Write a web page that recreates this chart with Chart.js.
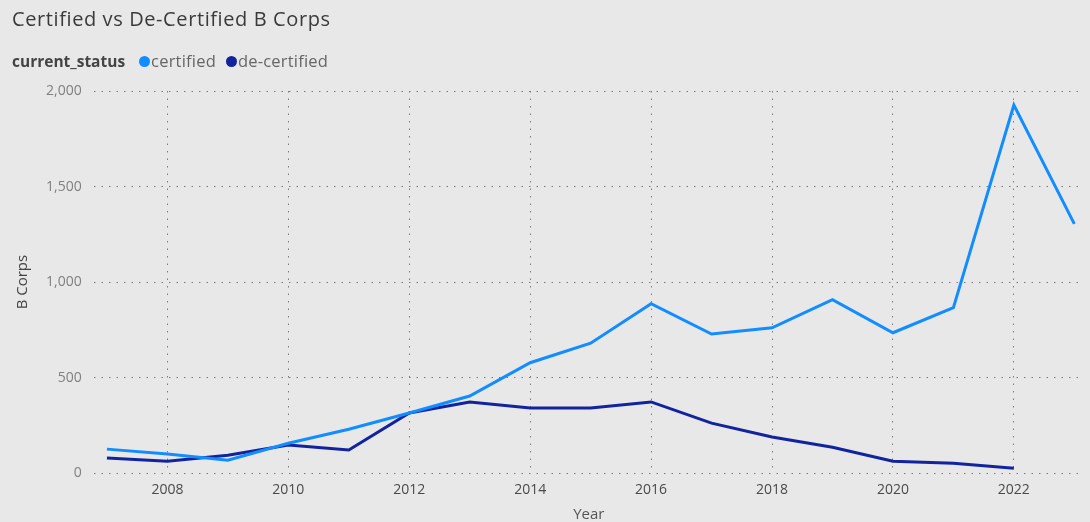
<!DOCTYPE html>
<html>
<head>
<meta charset="utf-8">
<title>Certified vs De-Certified B Corps</title>
<script src="https://cdn.jsdelivr.net/npm/chart.js@4/dist/chart.umd.min.js"></script>
<style>
  html, body { margin: 0; padding: 0; background: #e8e8e8; }
  #wrap { position: relative; width: 1090px; height: 522px; overflow: hidden; }
  #myChart { position: absolute; left: 0; top: 0; }
  .title { position: absolute; left: 12px; top: 5px; font-family: "Open Sans", sans-serif; font-size: 20px; letter-spacing: 0.6px; font-weight: 500; color: #3a3a3a; }
  .legend { position: absolute; left: 12px; top: 49px; font-family: "Open Sans", sans-serif; font-size: 16.5px; color: #666; white-space: nowrap; }
  .legend b { color: #444; font-size: 15.5px; margin-right: 14px; }
  .legend .item { margin-right: 10px; letter-spacing: 0.2px; }
  .dot { display: inline-block; width: 11px; height: 11px; border-radius: 50%; vertical-align: 0px; margin-right: 1px; }
</style>
</head>
<body>
<div id="wrap">
  <canvas id="myChart" width="1090" height="522"></canvas>
  <div class="title">Certified vs De-Certified B Corps</div>
  <div class="legend"><b>current_status</b><span class="dot" style="background:#118DFF"></span><span class="item">certified</span><span class="dot" style="background:#12239E"></span><span class="item">de-certified</span></div>
</div>
<script>
// yearly counts
var years = [2007, 2008, 2009, 2010, 2011, 2012, 2013, 2014, 2015, 2016, 2017, 2018, 2019, 2020, 2021, 2022, 2023];
var certified = [126, 100, 68, 157, 230, 315, 404, 578, 680, 887, 728, 761, 908, 735, 866, 1926, 1305];
var deCertified = [79, 63, 94, 147, 121, 315, 373, 341, 341, 373, 262, 189, 136, 63, 52, 26, null];
var yearTicks = [2008, 2010, 2012, 2014, 2016, 2018, 2020, 2022];
var countTicks = [0, 500, 1000, 1500, 2000];

function points(values) {
    return years.map(function (y, i) { return { x: y, y: values[i] }; });
}

var gridDots = { display: false, dash: [1.5, 6] };

var ctx = document.getElementById('myChart').getContext('2d');
var myChart = new Chart(ctx, {
    type: 'line',
    data: {
        datasets: [{
            label: 'certified',
            data: points(certified),
            borderColor: '#118DFF',
            borderWidth: 3,
            pointRadius: 0
        }, {
            label: 'de-certified',
            data: points(deCertified),
            borderColor: '#12239E',
            borderWidth: 3,
            pointRadius: 0
        }]
    },
    options: {
        responsive: false,
        animation: false,
        layout: { padding: { top: 91, right: 6, left: 14, bottom: -2 } },
        plugins: {
            legend: { display: false },
            tooltip: { enabled: false }
        },
        scales: {
            x: {
                type: 'linear',
                min: 2006.78,
                max: 2023.16,
                afterBuildTicks: function (axis) {
                    axis.ticks = yearTicks.map(function (v) { return { value: v }; });
                },
                ticks: {
                    color: '#4a4a4a',
                    font: { family: 'Open Sans', size: 14 },
                    padding: 8,
                    maxRotation: 0,
                    callback: function (v) { return String(v); }
                },
                grid: { color: '#7a7a7a', lineWidth: 1, drawTicks: false },
                border: gridDots,
                title: {
                    display: true,
                    text: 'Year',
                    color: '#555',
                    font: { family: 'Open Sans', size: 15 },
                    padding: { top: 0, bottom: 0 }
                }
            },
            y: {
                min: 0,
                max: 2000,
                afterBuildTicks: function (axis) {
                    axis.ticks = countTicks.map(function (v) { return { value: v }; });
                },
                ticks: {
                    color: '#808080',
                    font: { family: 'Open Sans', size: 14 },
                    padding: 12,
                    callback: function (v) { return v.toLocaleString('en-US'); }
                },
                grid: { color: '#7a7a7a', lineWidth: 1, drawTicks: false },
                border: gridDots,
                title: {
                    display: true,
                    text: 'B Corps',
                    color: '#444',
                    font: { family: 'Open Sans', size: 15 },
                    padding: { top: 0, bottom: 2 }
                }
            }
        }
    }
});
</script>
</body>
</html>
